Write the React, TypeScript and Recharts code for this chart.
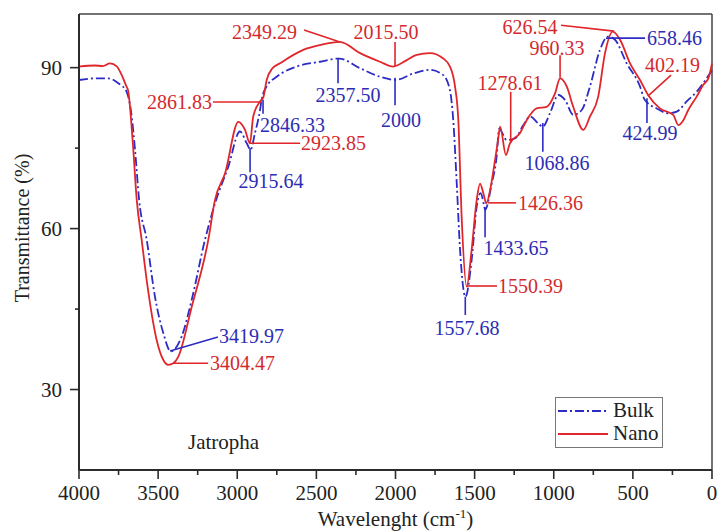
import React from 'react';
import {
  LineChart,
  Line,
  XAxis,
  YAxis,
  ReferenceLine,
  ReferenceDot,
  Legend,
} from 'recharts';

// FTIR spectra, Jatropha – wavenumber (cm-1) vs transmittance (%)
const bulkWave = [
  4000, 3899, 3815, 3752, 3699, 3667, 3646, 3620, 3572, 3520, 3467, 3420, 3351, 3288, 3204, 3134,
  3057, 2983, 2940, 2916, 2888, 2856, 2846, 2814, 2751, 2624, 2477, 2357, 2224, 2098, 2000, 1888,
  1782, 1698, 1656, 1635, 1613, 1592, 1558, 1519, 1487, 1462, 1441, 1434, 1392, 1361, 1345, 1297,
  1245, 1192, 1150, 1098, 1069, 1024, 971, 929, 877, 823, 771, 708, 658, 613, 539, 455, 425, 350,
  276, 223, 160, 97, 34, 0,
];
const bulkT = [
  87.7, 88.0, 88.0, 87.1, 85.5, 80.9, 74.7, 65.3, 57.9, 47.3, 40.5, 37.1, 39.9, 46.7, 57.9, 65.3,
  71.5, 78.1, 75.9, 74.7, 77.8, 82.1, 84.0, 86.5, 88.3, 90.2, 91.1, 91.7, 89.9, 88.3, 87.7, 88.9,
  89.6, 88.6, 85.8, 80.2, 68.4, 56.0, 47.3, 54.1, 64.1, 66.6, 64.4, 63.5, 68.4, 73.4, 78.6, 76.5,
  76.8, 79.3, 80.9, 79.6, 79.0, 81.5, 84.9, 84.0, 81.2, 82.1, 86.5, 93.3, 95.8, 95.2, 90.8, 86.5, 84.0, 82.4,
  81.5, 81.8, 83.7, 85.5, 88.0, 89.5,
];

const nanoWave = [
  4000, 3900, 3850, 3804, 3760, 3730, 3700, 3690, 3660, 3635, 3604, 3564, 3509, 3467, 3436, 3404,
  3373, 3288, 3183, 3141, 3077, 2993, 2951, 2920, 2899, 2856, 2835, 2814, 2780, 2730, 2583, 2477,
  2351, 2224, 2098, 2015, 1929, 1866, 1782, 1698, 1656, 1624, 1603, 1582, 1550, 1519, 1487, 1466,
  1445, 1426, 1400, 1371, 1352, 1339, 1302, 1277, 1213, 1171, 1108, 1045, 992, 960, 918, 877, 813,
  771, 719, 676, 627, 581, 518, 455, 402, 329, 245, 213, 181, 150, 97, 55, 23, 0,
];
const nanoT = [
  90.2, 90.4, 90.3, 90.8, 90.2, 88.6, 86.5, 85.8, 76.0, 65.3, 57.9, 48.6, 39.2, 35.5, 34.6, 34.9,
  36.1, 45.4, 57.9, 65.3, 70.3, 79.9, 78.4, 75.9, 80.9, 83.7, 84.5, 87.7, 89.8, 90.8, 93.3, 94.2,
  94.8, 92.7, 91.1, 90.2, 91.4, 92.4, 92.7, 91.7, 90.2, 86.5, 80.2, 62.2, 49.2, 56.0, 65.3, 68.4,
  66.6, 64.7, 67.5, 72.8, 76.5, 79.0, 73.7, 75.9, 77.8, 80.2, 82.4, 82.7, 85.2, 88.0, 86.5, 82.7, 78.4,
  80.9, 84.6, 92.7, 96.7, 95.2, 90.8, 87.7, 84.8, 82.4, 81.2, 79.3, 80.2, 82.1, 84.6, 86.8, 88.0, 90.8,
];

const xTicks = [4000, 3750, 3500, 3250, 3000, 2750, 2500, 2250, 2000, 1750, 1500, 1250, 1000, 750, 500, 250, 0];
const yTicks = [30, 45, 60, 75, 90];

// peak annotations: text position + leader line, in data units
const peakLabels = [
  { s: 'nano', text: '2349.29', at: [3033, 96.6], anchor: 'start', from: [2578, 97.0], to: [2351, 94.8] },
  { s: 'nano', text: '2015.50', at: [2060, 96.6], anchor: 'middle', from: [2003, 94.8], to: [2003, 90.3] },
  { s: 'nano', text: '2861.83', at: [3160, 83.6], anchor: 'end', from: [3153, 83.6], to: [2844, 83.6] },
  { s: 'bulk', text: '2846.33', at: [2856, 79.3], anchor: 'start', from: [2837, 84.0], to: [2837, 81.4] },
  { s: 'nano', text: '2923.85', at: [2597, 75.9], anchor: 'start', from: [2919, 75.9], to: [2603, 75.9] },
  { s: 'bulk', text: '2915.64', at: [2787, 68.9], anchor: 'middle', from: [2919, 75.0], to: [2919, 70.5] },
  { s: 'bulk', text: '2357.50', at: [2300, 84.9], anchor: 'middle', from: [2363, 91.8], to: [2363, 87.1] },
  { s: 'bulk', text: '2000', at: [1965, 80.2], anchor: 'middle', from: [2003, 88.1], to: [2003, 83.0] },
  { s: 'bulk', text: '3419.97', at: [3115, 40.0], anchor: 'start', from: [3425, 37.2], to: [3122, 39.8] },
  { s: 'nano', text: '3404.47', at: [3172, 34.9], anchor: 'start', from: [3406, 34.9], to: [3185, 34.9] },
  { s: 'nano', text: '1278.61', at: [1277, 87.1], anchor: 'middle', from: [1272, 85.5], to: [1272, 76.0] },
  { s: 'nano', text: '960.33', at: [980, 93.7], anchor: 'middle', from: [960, 92.3], to: [960, 88.1] },
  { s: 'nano', text: '626.54', at: [1150, 97.6], anchor: 'middle', from: [954, 97.9], to: [619, 96.8] },
  { s: 'bulk', text: '658.46', at: [411, 95.5], anchor: 'start', from: [670, 95.5], to: [423, 95.5] },
  { s: 'nano', text: '402.19', at: [423, 90.5], anchor: 'start', from: [405, 84.7], to: [259, 88.6] },
  { s: 'bulk', text: '424.99', at: [392, 77.8], anchor: 'middle', from: [411, 84.3], to: [411, 79.7] },
  { s: 'bulk', text: '1068.86', at: [980, 72.2], anchor: 'middle', from: [1069, 79.7], to: [1069, 74.3] },
  { s: 'nano', text: '1426.36', at: [1226, 64.8], anchor: 'start', from: [1415, 64.8], to: [1239, 64.8] },
  { s: 'bulk', text: '1433.65', at: [1239, 56.4], anchor: 'middle', from: [1434, 64.0], to: [1434, 58.4] },
  { s: 'nano', text: '1550.39', at: [1352, 49.3], anchor: 'start', from: [1548, 49.3], to: [1359, 49.3] },
  { s: 'bulk', text: '1557.68', at: [1548, 41.5], anchor: 'middle', from: [1559, 47.3], to: [1559, 43.9] },
];

const FONT = '"Liberation Serif", "Times New Roman", serif';
const RED = '#e0262b';
const BLUE = '#2c2cc4';
const RED_TEXT = '#d32a2e';
const BLUE_TEXT = '#2d2db4';
const AXIS = '#2b2b2b';
const BULK_DASH = '9 3 2 3';
const FS = 21;
const ANN_FS = 20;

const TICK_SIZE = 7;
const TICK_MARGIN = 2;

const bulkData = bulkWave.map((x, i) => ({ x, y: bulkT[i] }));
const nanoData = nanoWave.map((x, i) => ({ x, y: nanoT[i] }));

const XTick = (props: any) => {
  const { x, y, payload } = props;
  const major = payload.value % 500 === 0;
  const axisY = y - TICK_SIZE - TICK_MARGIN;
  return (
    <g>
      <line x1={x} x2={x} y1={axisY} y2={axisY + (major ? 9 : 5)} stroke={AXIS} strokeWidth={1.6} />
      {major && (
        <text x={x} y={axisY + 30} textAnchor="middle" fontFamily={FONT} fontSize={FS} fill="#222">
          {payload.value}
        </text>
      )}
    </g>
  );
};

const YTick = (props: any) => {
  const { x, y, payload } = props;
  const major = payload.value % 30 === 0;
  const axisX = x + TICK_SIZE + TICK_MARGIN;
  return (
    <g>
      <line x1={axisX} x2={axisX - (major ? 9 : 4)} y1={y} y2={y} stroke={AXIS} strokeWidth={1.6} />
      {major && (
        <text x={axisX - 17} y={y} dy="0.34em" textAnchor="end" fontFamily={FONT} fontSize={FS} fill="#222">
          {payload.value}
        </text>
      )}
    </g>
  );
};

const XLabel = (props: any) => {
  const { viewBox } = props;
  const cx = viewBox.x + viewBox.width / 2;
  return (
    <text x={cx} y={viewBox.y + 56} textAnchor="middle" fontFamily={FONT} fontSize={FS} fill="#222">
      Wavelenght (cm
      <tspan fontSize={13} dy={-8}>-1</tspan>
      <tspan dy={8}>)</tspan>
    </text>
  );
};

const YLabel = (props: any) => {
  const { viewBox } = props;
  const cx = viewBox.x + 3;
  const cy = viewBox.y + viewBox.height / 2 - 14;
  return (
    <text
      x={cx}
      y={cy}
      transform={`rotate(-90 ${cx} ${cy})`}
      textAnchor="middle"
      dominantBaseline="central"
      fontFamily={FONT}
      fontSize={20}
      fill="#222"
    >
      Transmittance (%)
    </text>
  );
};

const LegendBox = (props: any) => {
  const { payload = [] } = props;
  return (
    <div
      style={{
        border: '1px solid #777',
        background: '#fff',
        width: 108,
        height: 51,
        boxSizing: 'border-box',
        padding: '1px 0 0 2px',
        fontFamily: FONT,
        fontSize: FS,
        color: '#222',
      }}
    >
      {payload.map((entry: any) => (
        <div key={entry.value} style={{ display: 'flex', alignItems: 'center', height: 23 }}>
          <svg width={50} height={6}>
            <line
              x1={0}
              y1={3}
              x2={50}
              y2={3}
              stroke={entry.color}
              strokeWidth={2}
              strokeDasharray={entry.value === 'Bulk' ? BULK_DASH : undefined}
            />
          </svg>
          <span style={{ marginLeft: 5 }}>{entry.value}</span>
        </div>
      ))}
    </div>
  );
};

export default function App() {
  return (
    <div style={{ position: 'absolute', left: 0, top: 0, width: 718, height: 531, background: '#fff' }}>
      <LineChart width={718} height={531} margin={{ top: 14, right: 6, left: 19, bottom: 21 }}>
        <XAxis
          dataKey="x"
          type="number"
          domain={[0, 4000]}
          reversed
          ticks={xTicks}
          interval={0}
          height={40}
          tickSize={TICK_SIZE}
          tickMargin={TICK_MARGIN}
          tickLine={false}
          tick={<XTick />}
          axisLine={{ stroke: AXIS, strokeWidth: 2 }}
          label={<XLabel />}
        />
        <YAxis
          type="number"
          domain={[15, 100]}
          ticks={yTicks}
          interval={0}
          width={60}
          tickSize={TICK_SIZE}
          tickMargin={TICK_MARGIN}
          tickLine={false}
          tick={<YTick />}
          axisLine={{ stroke: AXIS, strokeWidth: 2 }}
          label={<YLabel />}
        />
        <ReferenceLine y={100} stroke="#444" strokeWidth={1.5} />
        <ReferenceLine x={0} stroke="#444" strokeWidth={1.5} />
        <Line
          data={bulkData}
          dataKey="y"
          name="Bulk"
          type="monotone"
          stroke={BLUE}
          strokeWidth={1.8}
          strokeDasharray={BULK_DASH}
          dot={false}
          isAnimationActive={false}
        />
        <Line
          data={nanoData}
          dataKey="y"
          name="Nano"
          type="monotone"
          stroke={RED}
          strokeWidth={1.8}
          dot={false}
          isAnimationActive={false}
        />
        {peakLabels.map((p) => (
          <ReferenceLine
            key={'l' + p.text}
            segment={[
              { x: p.from[0], y: p.from[1] },
              { x: p.to[0], y: p.to[1] },
            ]}
            stroke={p.s === 'nano' ? RED : BLUE}
            strokeWidth={1.6}
            ifOverflow="visible"
          />
        ))}
        {peakLabels.map((p) => (
          <ReferenceDot
            key={'t' + p.text}
            x={p.at[0]}
            y={p.at[1]}
            r={0}
            ifOverflow="visible"
            shape={(d: any) => (
              <text
                x={d.cx}
                y={d.cy}
                dy="0.34em"
                textAnchor={p.anchor}
                fontFamily={FONT}
                fontSize={ANN_FS}
                fill={p.s === 'nano' ? RED_TEXT : BLUE_TEXT}
              >
                {p.text}
              </text>
            )}
          />
        ))}
        <ReferenceDot
          x={3311}
          y={20.2}
          r={0}
          ifOverflow="visible"
          shape={(d: any) => (
            <text x={d.cx} y={d.cy} dy="0.34em" fontFamily={FONT} fontSize={FS} fill="#222">
              Jatropha
            </text>
          )}
        />
        <Legend
          layout="vertical"
          align="center"
          verticalAlign="middle"
          content={<LegendBox />}
          wrapperStyle={{ left: 555, top: 397, width: 108, height: 51 }}
        />
      </LineChart>
    </div>
  );
}
